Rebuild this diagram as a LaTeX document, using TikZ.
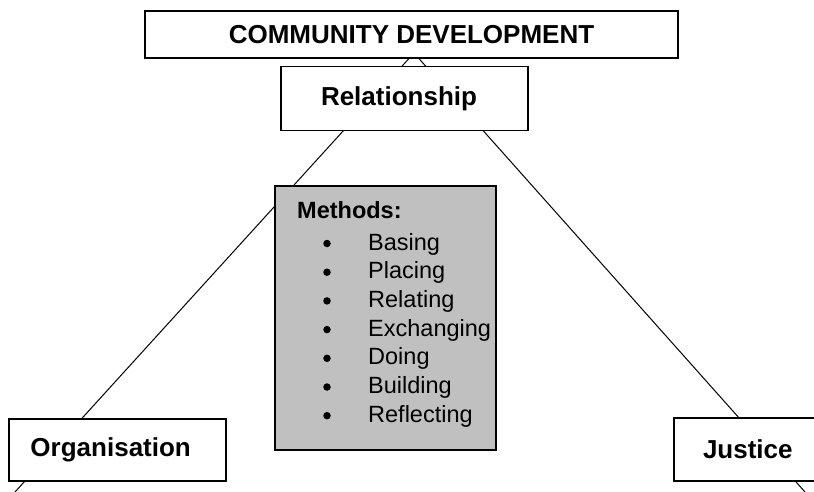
\documentclass[tikz,border=0pt]{standalone}
\usepackage{fontspec}
\setmainfont{Liberation Sans}
\usepackage{xcolor}
\definecolor{methodgrey}{RGB}{192,192,192}

\begin{document}
\begin{tikzpicture}[x=1pt,y=-1pt,
    every node/.style={inner sep=0pt},
    box/.style={draw,line width=1.5pt,fill=white,font=\fontsize{26}{30}\selectfont\bfseries},
    item/.style={anchor=base west,font=\fontsize{23.5}{28}\selectfont},
    dot/.style={circle,fill=black,minimum size=7.5pt}]

      \useasboundingbox (0,0) rectangle (814,492);

      \coordinate (apex) at (414,53);
      \coordinate (bl) at (15,492);
      \coordinate (br) at (805,492);
        \draw[line width=1pt] (apex) -- (bl);
        \draw[line width=1pt] (apex) -- (br);

      \node[box,minimum width=533pt,minimum height=47pt] (cd) at (411.5,34.5) {COMMUNITY DEVELOPMENT};

      \node[box,minimum width=247pt,minimum height=64pt,text width=239pt,align=left] (rel) at (404.5,98.5) {\hspace*{36pt}\raisebox{4pt}{Relationship}};

      \node[box,minimum width=217pt,minimum height=62pt,text width=200pt,align=left] (org) at (117.5,450) {\hspace*{13pt}Organisation};

      \node[box,minimum width=148pt,minimum height=63pt,text width=140pt,align=left] (jus) at (748,449.5) {\hspace*{25pt}Justice};

      \node[draw,line width=1.5pt,fill=methodgrey,minimum width=221pt,minimum height=264pt] (meth) at (385.5,318) {};

      \node[item,font=\fontsize{23.5}{28}\selectfont\bfseries] (mhead) at (297,218.5) {Methods:};
      \foreach \m [count=\i] in {Basing,Placing,Relating,Exchanging,Doing,Building,Reflecting}
      {
        \node[dot] (b\i) at (327,243.5+28.7*\i-28.7) {};
        \node[item] (m\i) at (368,250+28.7*\i-28.7) {\m};
      }

\end{tikzpicture}
\end{document}
